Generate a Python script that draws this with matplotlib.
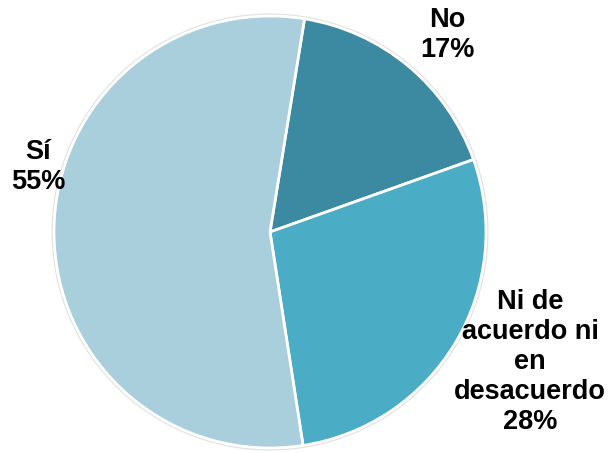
import numpy as np
import matplotlib.pyplot as plt
from matplotlib.patches import Circle

plt.rcParams['font.family'] = ['Liberation Sans', 'DejaVu Sans']

categorias = ['No', 'Ni de\nacuerdo ni\nen\ndesacuerdo', 'Sí']
porcentajes = [17, 28, 55]
colores = ['#3C8AA2', '#4BACC6', '#A9CEDC']

# label anchors in pixels (from top-left), pie centre and radius in pixels
pos_etiquetas = [(447, 35), (530, 362), (38, 167)]
cx, cy, r = 270, 232, 216
W, H = 608, 453

fig = plt.figure(figsize=(W / 100, H / 100), dpi=100)
ax = fig.add_axes([0, 0, 1, 1])

# soft grey rim round the pie
ax.add_patch(Circle((0, 0), 1.006, facecolor='none', edgecolor='#E2E2E2', lw=1.8, zorder=0))

ax.pie(porcentajes, colors=colores, startangle=80.8, counterclock=False,
       radius=1, wedgeprops=dict(edgecolor='white', linewidth=2))

for cat, p, (px, py) in zip(categorias, porcentajes, pos_etiquetas):
    ax.text((px - cx) / r, (cy - py) / r, f'{cat}\n{p}%', ha='center', va='center',
            fontsize=19.5, fontweight='bold', color='black', linespacing=1.2)

ax.set_xlim(-cx / r, (W - cx) / r)
ax.set_ylim(-(H - cy) / r, cy / r)
ax.set_aspect('auto')
ax.axis('off')

fig.savefig('out.png', dpi=100)
